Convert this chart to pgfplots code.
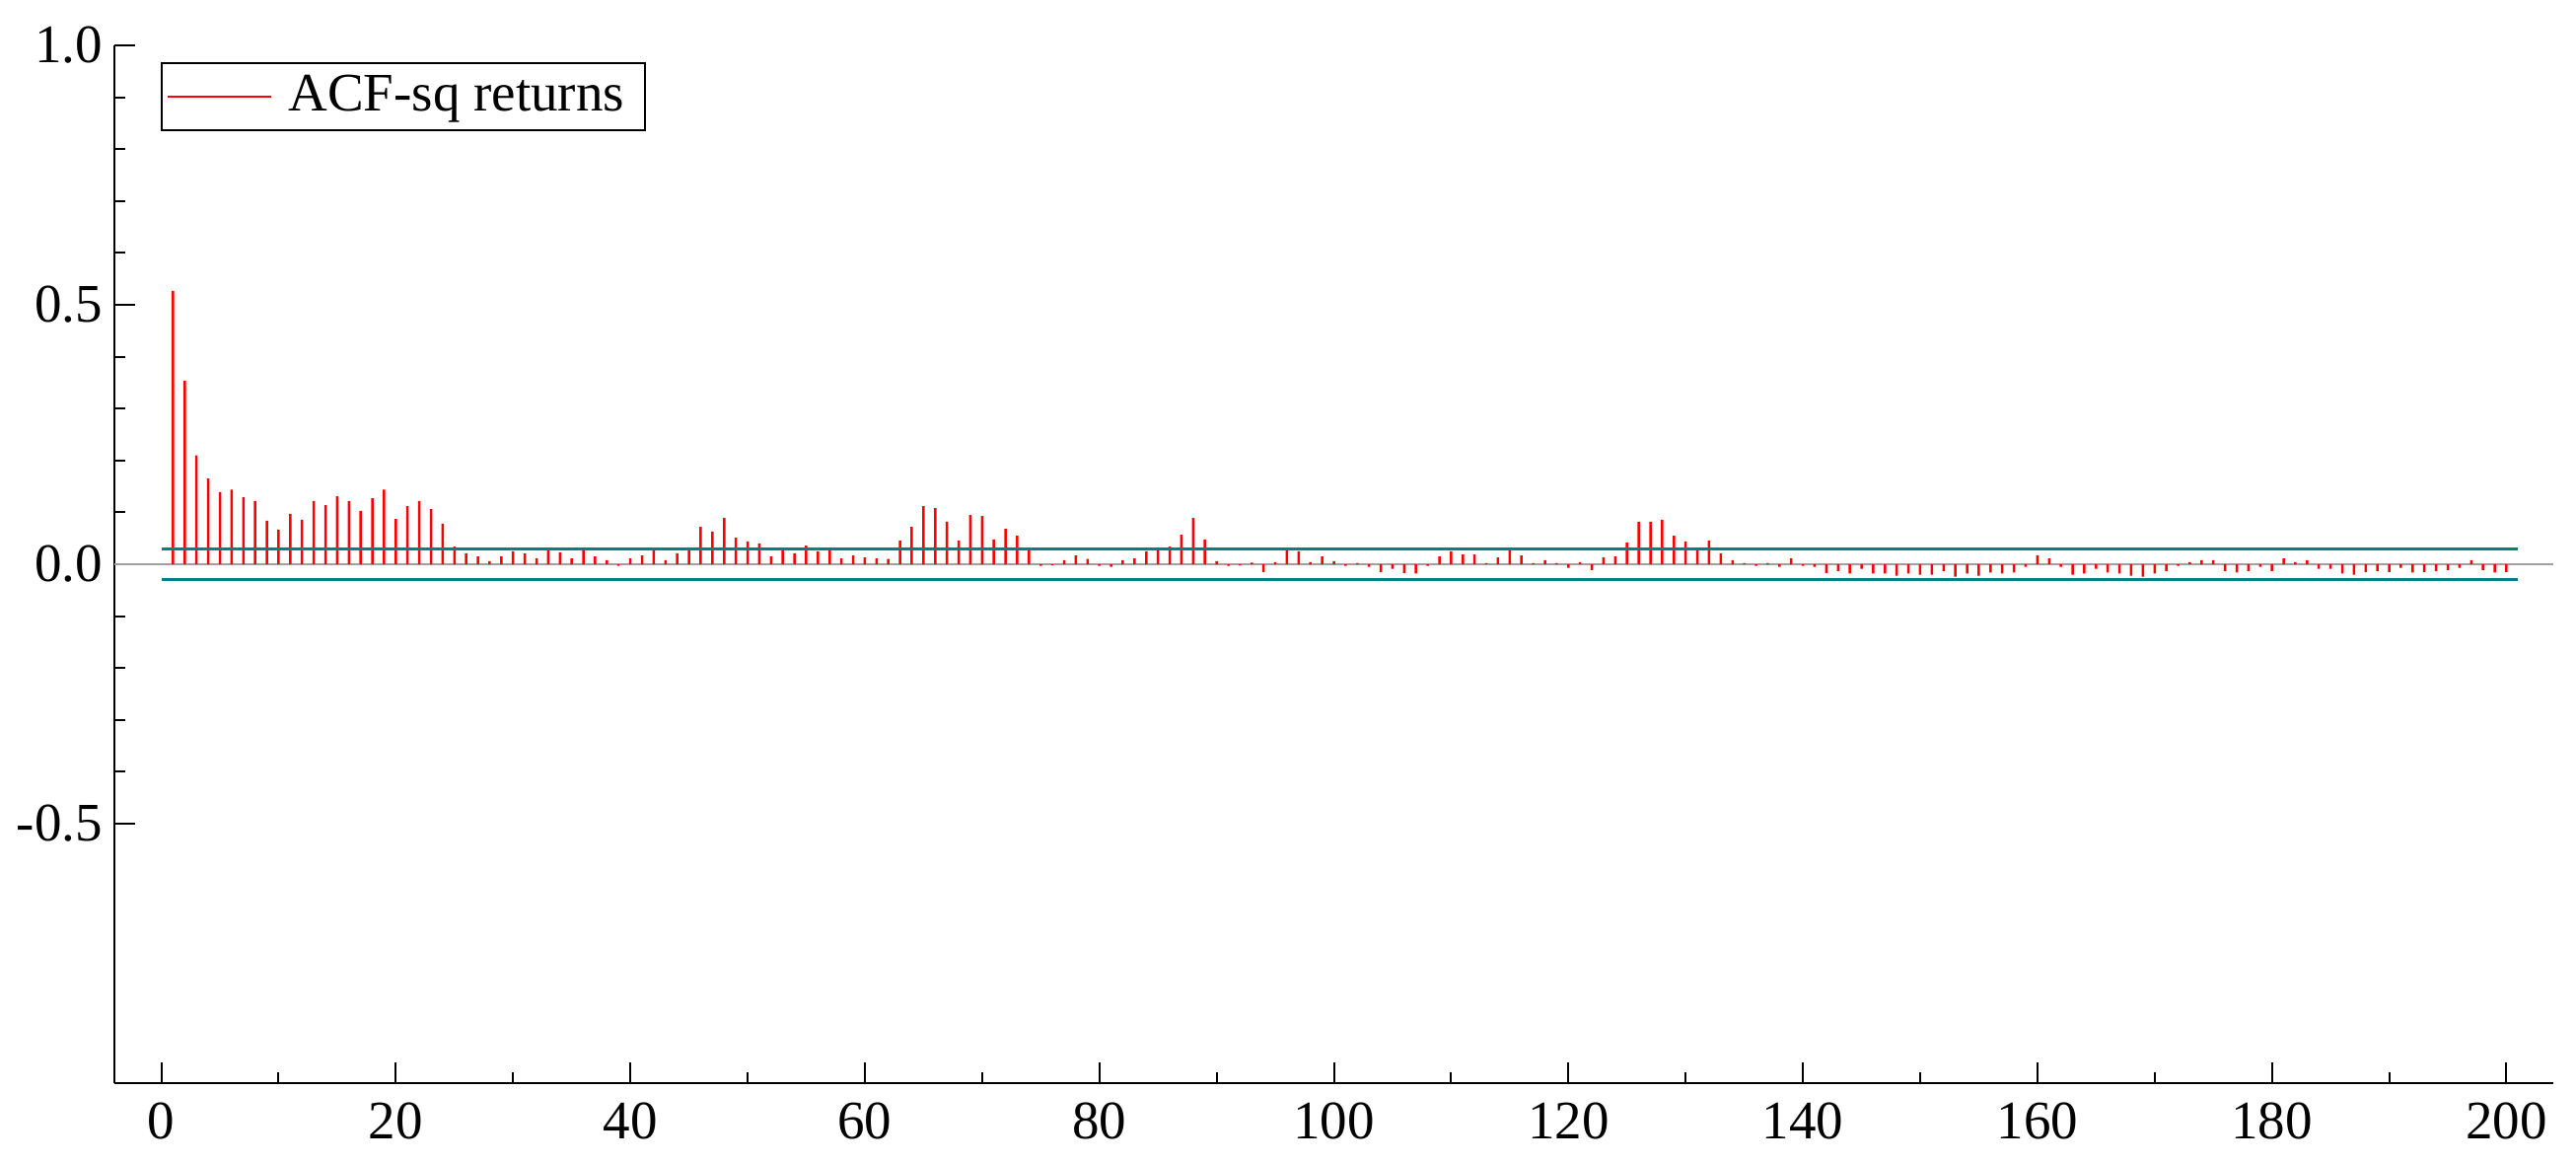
\documentclass[border=0pt]{standalone}
\usepackage{fontspec}
\setmainfont{Liberation Serif}
\usepackage{pgfplots}
\pgfplotsset{compat=1.18}
\definecolor{acfred}{RGB}{255,0,0}
\definecolor{bandteal}{RGB}{0,128,128}
\definecolor{zerogray}{RGB}{160,160,160}

\begin{document}
\begin{tikzpicture}
\begin{axis}[
  scale only axis,
  width=494.6pt, height=210.4pt,
  xmin=-4, xmax=204,
  ymin=-1, ymax=1,
  axis lines*=left,
  axis line style={line width=0.4pt},
  tick align=inside,
  tick style={black, line width=0.4pt},
  major tick length=4.2pt, minor tick length=2.2pt,
  xtick={0,20,...,200}, minor x tick num=1,
  ytick={-0.5,0,0.5,1}, yticklabels={-0.5,0.0,0.5,1.0}, minor y tick num=4,
  font=\fontsize{11}{13}\selectfont,
  x tick label style={/pgf/number format/assume math mode=true, inner sep=0pt, anchor=north, yshift=-3.8pt},
  y tick label style={inner sep=0pt, anchor=east, xshift=-2.2pt},
  legend style={at={(0.019,0.984)}, anchor=north west, draw=black, line width=0.4pt,
    font=\fontsize{11}{13}\selectfont, inner xsep=1pt, inner ysep=0pt,
    nodes={inner xsep=3.2pt, inner ysep=2.4pt}},
  legend cell align=left,
]
% zero reference line
\addplot[zerogray, line width=0.35pt, forget plot] coordinates {(-4,0) (204,0)};
% ACF of squared returns, lags 1..200
\addplot[ybar, bar width=0.5pt, bar shift=0pt, fill=acfred, draw=none,
  legend image code/.code={\draw[acfred, line width=0.5pt] (0pt,0pt) -- (21pt,0pt);}]
table[row sep=\\] {
x y\\
1 0.527\\ 2 0.354\\ 3 0.210\\ 4 0.165\\ 5 0.139\\ 6 0.144\\ 7 0.129\\ 8 0.122\\ 9 0.084\\ 10 0.067\\
11 0.097\\ 12 0.086\\ 13 0.122\\ 14 0.114\\ 15 0.131\\ 16 0.122\\ 17 0.103\\ 18 0.127\\ 19 0.144\\ 20 0.087\\
21 0.112\\ 22 0.122\\ 23 0.106\\ 24 0.078\\ 25 0.034\\ 26 0.021\\ 27 0.015\\ 28 0.006\\ 29 0.015\\ 30 0.025\\
31 0.021\\ 32 0.011\\ 33 0.027\\ 34 0.023\\ 35 0.011\\ 36 0.027\\ 37 0.015\\ 38 0.008\\ 39 -0.003\\ 40 0.011\\
41 0.017\\ 42 0.027\\ 43 0.008\\ 44 0.021\\ 45 0.027\\ 46 0.072\\ 47 0.063\\ 48 0.089\\ 49 0.051\\ 50 0.044\\
51 0.040\\ 52 0.015\\ 53 0.027\\ 54 0.021\\ 55 0.036\\ 56 0.025\\ 57 0.027\\ 58 0.011\\ 59 0.017\\ 60 0.013\\
61 0.011\\ 62 0.010\\ 63 0.046\\ 64 0.072\\ 65 0.112\\ 66 0.108\\ 67 0.082\\ 68 0.046\\ 69 0.095\\ 70 0.093\\
71 0.048\\ 72 0.068\\ 73 0.055\\ 74 0.027\\ 75 -0.003\\ 76 -0.002\\ 77 0.008\\ 78 0.017\\ 79 0.010\\ 80 -0.003\\
81 -0.005\\ 82 0.008\\ 83 0.011\\ 84 0.025\\ 85 0.027\\ 86 0.034\\ 87 0.057\\ 88 0.089\\ 89 0.048\\ 90 0.006\\
91 -0.003\\ 92 -0.002\\ 93 0.003\\ 94 -0.015\\ 95 0.004\\ 96 0.027\\ 97 0.025\\ 98 0.004\\ 99 0.015\\ 100 0.006\\
101 -0.003\\ 102 0.002\\ 103 -0.005\\ 104 -0.015\\ 105 -0.009\\ 106 -0.017\\ 107 -0.018\\ 108 -0.003\\ 109 0.015\\ 110 0.025\\
111 0.019\\ 112 0.019\\ 113 0.002\\ 114 0.013\\ 115 0.027\\ 116 0.017\\ 117 0.002\\ 118 0.008\\ 119 0.002\\ 120 -0.007\\
121 0.004\\ 122 -0.011\\ 123 0.013\\ 124 0.015\\ 125 0.042\\ 126 0.082\\ 127 0.082\\ 128 0.086\\ 129 0.055\\ 130 0.044\\
131 0.027\\ 132 0.046\\ 133 0.021\\ 134 0.008\\ 135 0.002\\ 136 -0.003\\ 137 0.002\\ 138 -0.005\\ 139 0.011\\ 140 -0.003\\
141 -0.005\\ 142 -0.017\\ 143 -0.013\\ 144 -0.018\\ 145 -0.009\\ 146 -0.018\\ 147 -0.018\\ 148 -0.022\\ 149 -0.018\\ 150 -0.020\\
151 -0.020\\ 152 -0.013\\ 153 -0.024\\ 154 -0.018\\ 155 -0.022\\ 156 -0.016\\ 157 -0.018\\ 158 -0.016\\ 159 -0.005\\ 160 0.017\\
161 0.011\\ 162 -0.005\\ 163 -0.020\\ 164 -0.018\\ 165 -0.009\\ 166 -0.016\\ 167 -0.018\\ 168 -0.022\\ 169 -0.024\\ 170 -0.018\\
171 -0.013\\ 172 -0.003\\ 173 0.004\\ 174 0.008\\ 175 0.008\\ 176 -0.013\\ 177 -0.016\\ 178 -0.013\\ 179 -0.005\\ 180 -0.013\\
181 0.011\\ 182 0.004\\ 183 0.008\\ 184 -0.009\\ 185 -0.009\\ 186 -0.018\\ 187 -0.020\\ 188 -0.015\\ 189 -0.013\\ 190 -0.015\\
191 -0.007\\ 192 -0.016\\ 193 -0.015\\ 194 -0.013\\ 195 -0.011\\ 196 -0.007\\ 197 0.008\\ 198 -0.011\\ 199 -0.016\\ 200 -0.015\\
};
\addlegendentry{ACF-sq returns}
% +/- 2 standard error bands
\addplot[bandteal, line width=0.6pt, forget plot] coordinates {(0,0.0295) (201,0.0295)};
\addplot[bandteal, line width=0.6pt, forget plot] coordinates {(0,-0.0295) (201,-0.0295)};
\end{axis}
\path ([shift={(-23.2pt,-16.2pt)}]current axis.south west) rectangle ([shift={(4.6pt,9.2pt)}]current axis.north east);
\end{tikzpicture}
\end{document}
